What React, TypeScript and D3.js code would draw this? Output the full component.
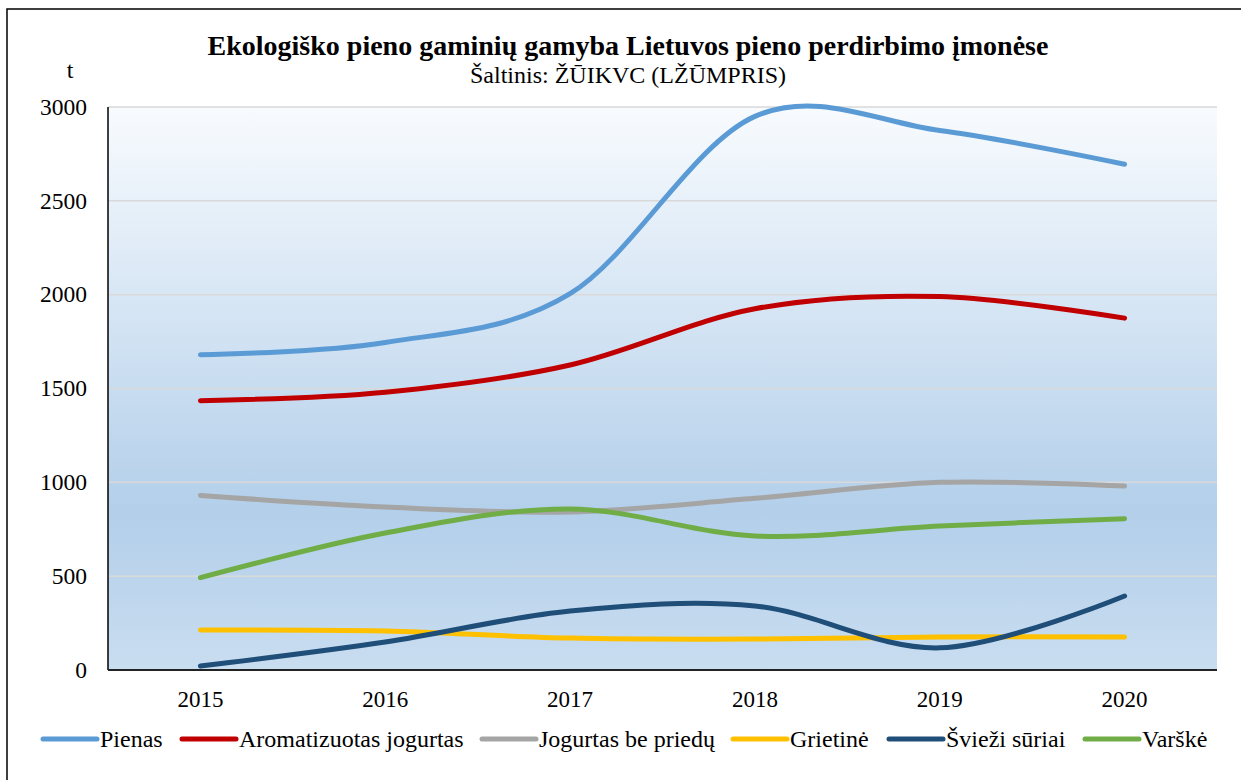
import React from 'react';
import { scaleBand, scaleLinear, line, curveCardinal } from 'd3';

const years = ['2015', '2016', '2017', '2018', '2019', '2020'];
const yTicks = [0, 500, 1000, 1500, 2000, 2500, 3000];

const pienas = [1680, 1745, 2005, 2950, 2875, 2695];
const aromatizuotas = [1435, 1480, 1625, 1925, 1990, 1875];
const jogurtas = [930, 868, 842, 915, 1000, 980];
const grietine = [213, 208, 170, 165, 176, 176];
const sviezi = [21, 149, 314, 341, 118, 394];
const varske = [492, 730, 858, 714, 767, 806];

const seriesNames = ['Pienas', 'Aromatizuotas jogurtas', 'Jogurtas be priedų', 'Grietinė', 'Švieži sūriai', 'Varškė'];
const seriesValues = [pienas, aromatizuotas, jogurtas, grietine, sviezi, varske];
const colors = ['#5b9bd5', '#c00000', '#a5a5a5', '#ffc000', '#1f4e79', '#70ad47'];

// legend swatch start positions
const legendX = [43, 182, 482, 733, 889, 1085];

const W = 1241, H = 780;
const margin = { top: 107, right: 24, bottom: 110, left: 108 };
const font = '"Liberation Serif", "Times New Roman", serif';

export default function App() {
  const x = scaleBand().domain(years).range([margin.left, W - margin.right]);
  const y = scaleLinear().domain([0, 3000]).range([H - margin.bottom, margin.top]);
  const cx = (d: string) => (x(d) as number) + x.bandwidth() / 2;

  const path = line<number>()
    .x((_, i) => cx(years[i]))
    .y((d) => y(d))
    .curve(curveCardinal.tension(0));

  return (
    <svg width={W} height={H} style={{ position: 'absolute', left: 0, top: 0, fontFamily: font }}>
      <defs>
        <linearGradient id="bg" x1="0" y1="0" x2="0" y2="1">
          <stop offset="0%" stopColor="#f8fbfe" />
          <stop offset="72%" stopColor="#b3cfea" />
          <stop offset="100%" stopColor="#c9ddf0" />
        </linearGradient>
      </defs>
      <rect x={0} y={0} width={W} height={H} fill="#fff" />
      <rect x={7} y={9} width={W + 20} height={H + 20} fill="none" stroke="#000" strokeWidth={1.5} />

      <text x={628} y={55} textAnchor="middle" fontSize={28} fontWeight="bold">
        Ekologiško pieno gaminių gamyba Lietuvos pieno perdirbimo įmonėse
      </text>
      <text x={628} y={83} textAnchor="middle" fontSize={24}>
        Šaltinis: ŽŪIKVC (LŽŪMPRIS)
      </text>
      <text x={70} y={78} textAnchor="middle" fontSize={24}>t</text>

      <rect x={margin.left} y={margin.top} width={W - margin.right - margin.left}
        height={H - margin.bottom - margin.top} fill="url(#bg)" />

      {yTicks.map((t) => (
        <g key={t}>
          {t > 0 && (
            <line x1={margin.left} x2={W - margin.right} y1={y(t)} y2={y(t)} stroke="#d9d9d9" strokeWidth={1.5} />
          )}
          <text x={87} y={y(t)} dy="0.33em" textAnchor="end" fontSize={23.5}>{t}</text>
        </g>
      ))}

      <line x1={margin.left} x2={margin.left} y1={margin.top} y2={H - margin.bottom} stroke="#000" strokeWidth={1.5} />
      <line x1={margin.left} x2={W - margin.right} y1={H - margin.bottom} y2={H - margin.bottom} stroke="#222" strokeWidth={2} />

      {years.map((yr) => (
        <text key={yr} x={cx(yr)} y={707} textAnchor="middle" fontSize={23}>{yr}</text>
      ))}

      {seriesValues.map((vals, i) => (
        <path key={seriesNames[i]} d={path(vals) as string} fill="none" stroke={colors[i]}
          strokeWidth={5} strokeLinecap="round" strokeLinejoin="round" />
      ))}

      {seriesNames.map((name, i) => (
        <g key={name}>
          <line x1={legendX[i]} x2={legendX[i] + 54} y1={739} y2={739} stroke={colors[i]} strokeWidth={5} strokeLinecap="round" />
          <text x={legendX[i] + 57} y={747} fontSize={24}>{name}</text>
        </g>
      ))}
    </svg>
  );
}
